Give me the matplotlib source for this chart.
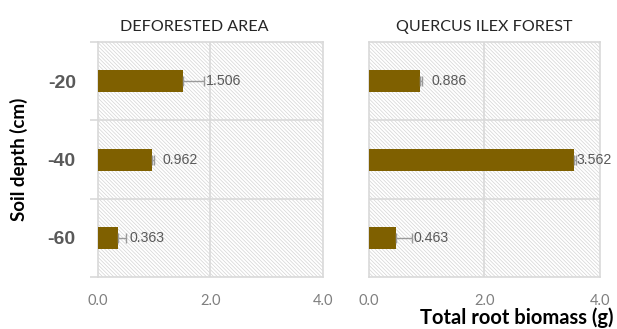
import numpy as np
import matplotlib
matplotlib.use("Agg")
import matplotlib.pyplot as plt
from matplotlib.patches import Rectangle

# profundidades y biomasa de raices
depths = ["-20", "-40", "-60"]
deforested = [1.506, 0.962, 0.363]
deforested_err = [0.38, 0.03, 0.14]
quercus = [0.886, 3.562, 0.463]
quercus_err = [0.03, 0.02, 0.28]
titles = ["DEFORESTED AREA", "QUERCUS ILEX FOREST"]
xticks = [0.0, 2.0, 4.0]

bar_color = "#7F6000"
line_gray = "#d9d9d9"
text_gray = "#595959"

plt.rcParams["hatch.color"] = "#d4d4d4"
plt.rcParams["hatch.linewidth"] = 0.5

fig = plt.figure(figsize=(6.17, 3.29), dpi=100)
ax1 = fig.add_axes([0.1588, 0.158, 0.3647, 0.714])
ax2 = fig.add_axes([0.598, 0.158, 0.374, 0.714])

y = np.arange(len(depths))
for ax, vals, errs, title in [(ax1, deforested, deforested_err, titles[0]),
                              (ax2, quercus, quercus_err, titles[1])]:
    # fondo rayado
    ax.add_patch(Rectangle((0, 0), 1, 1, transform=ax.transAxes, facecolor="white",
                           edgecolor="#d4d4d4", hatch="\\" * 9, lw=0, zorder=0))
    ax.barh(y, vals, height=0.28, color=bar_color, zorder=3)
    ax.errorbar(vals, y, xerr=[np.zeros(len(errs)), errs], fmt="none",
                ecolor="#9a9a9a", elinewidth=1, capsize=3.5, zorder=4)
    for yi, v, e in zip(y, vals, errs):
        xl = max(v + 0.19, v + e + 0.03)
        if xl > 3.6:
            # cerca del borde: etiqueta pegada a la barra de error
            xl = v + e + 0.01
        ax.text(xl, yi, f"{v:.3f}", va="center", ha="left", fontsize=10.2,
                color=text_gray, family="Liberation Sans", zorder=5, clip_on=False)
    ax.set_xlim(0, 4)
    ax.set_ylim(2.5, -0.5)
    ax.set_xticks(xticks)
    ax.set_xticklabels([f"{t:.1f}" for t in xticks], fontsize=10.5,
                       color="#7f7f7f", family="Lato")
    for b in [0.5, 1.5]:
        ax.axhline(b, color=line_gray, lw=1.2, zorder=1)
    ax.axvline(2.0, color=line_gray, lw=1.2, zorder=1)
    for s in ax.spines.values():
        s.set_color(line_gray)
        s.set_linewidth(1.2)
    ax.tick_params(axis="x", length=0, pad=12)

ax1.set_title(titles[0], fontsize=11.6, family="Lato", color="#262626", pad=8, x=0.43)
ax2.set_title(titles[1], fontsize=11.6, family="Lato", color="#262626", pad=8)

ax1.set_yticks([-0.5, 0.5, 1.5, 2.5], minor=True)
ax1.tick_params(axis="y", which="minor", length=6, color=line_gray, width=1.2)
ax1.set_yticks(y)
ax1.set_yticklabels(depths, fontsize=14, fontweight="bold", color=text_gray,
                    family="Liberation Sans")
ax1.tick_params(axis="y", which="major", length=0, pad=16)
ax1.set_ylabel("Soil depth (cm)", fontsize=13.5, fontweight="bold",
               family="Lato", labelpad=14)

ax2.set_yticks([])
fig.text(613 / 617, 1 - 318 / 329, "Total root biomass (g)", fontsize=14.5,
         fontweight="bold", family="Lato", ha="right", va="center")

fig.savefig("out.png", dpi=100)
